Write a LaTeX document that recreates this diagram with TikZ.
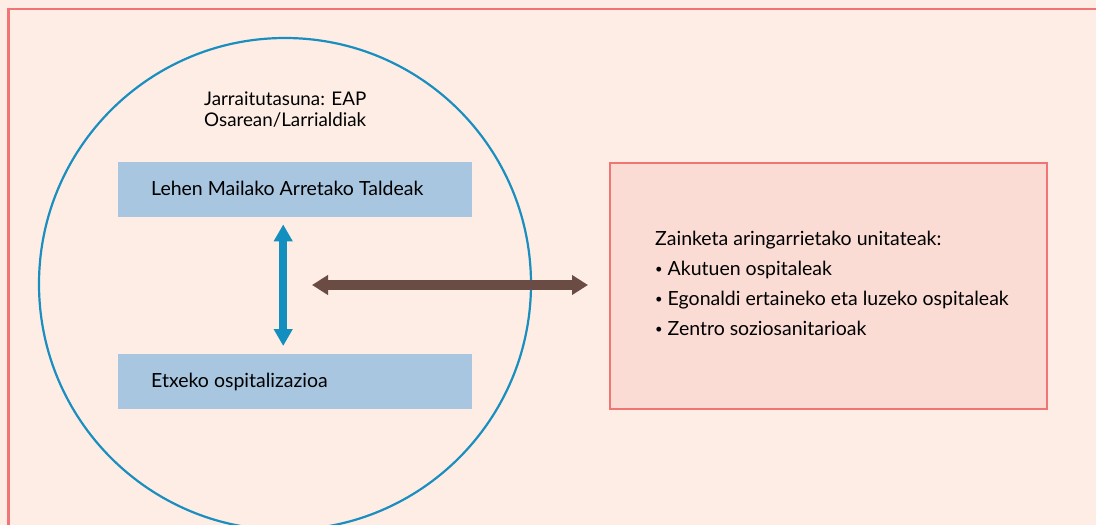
\documentclass[tikz,border=0pt]{standalone}
\usepackage{fontspec}
\setmainfont{Lato}
\usetikzlibrary{arrows.meta}
\definecolor{pagebg}{HTML}{FDEDE5}
\definecolor{framered}{HTML}{F27576}
\definecolor{ringblue}{HTML}{1A8FBF}
\definecolor{boxblue}{HTML}{A9C6E0}
\definecolor{arrowblue}{HTML}{138FBF}
\definecolor{arrowbrown}{HTML}{6B4C45}
\definecolor{unitfill}{HTML}{FADCD5}
\newcommand{\smallbul}{\raisebox{1.5pt}{\fontsize{13}{13}\selectfont\textbullet}\ }
\tikzset{
  bluebox/.style={fill=boxblue, minimum width=354pt, minimum height=55pt, inner sep=0pt},
  textlbl/.style={inner sep=0pt, anchor=base west, font=\fontsize{19.5}{23}\selectfont},
}
\begin{document}
\begin{tikzpicture}[x=1pt,y=-1pt]
  \useasboundingbox (0,0) rectangle (1096,525);
  % page background and outer frame
  \fill[pagebg] (0,0) rectangle (1096,525);
  \draw[framered, line width=2.5pt] (1100,9) -- (8.5,9) -- (8.5,530);
  % continuity ring
  \node[circle, draw=ringblue, line width=2.2pt, minimum size=492pt, inner sep=0pt] (ring) at (285,284) {};
  \node[textlbl, font=\fontsize{18.8}{23}\selectfont] (title1) at (204,105) {Jarraitutasuna: EAP};
  \node[textlbl, font=\fontsize{18.8}{23}\selectfont] (title2) at (204,126) {Osarean/Larrialdiak};
  % primary care teams and home hospitalisation
  \node[bluebox, anchor=north west] (lmat) at (118,162) {};
  \node[textlbl] (lmattext) at (151,195) {Lehen Mailako Arretako Taldeak};
  \node[bluebox, anchor=north west] (etx) at (118,354) {};
  \node[textlbl] (etxtext) at (151,387) {Etxeko ospitalizazioa};
  \draw[arrowblue, line width=8pt, {Triangle[width=18pt,length=17pt]}-{Triangle[width=18pt,length=17pt]},
        shorten <=7pt, shorten >=8pt] ([xshift=-12pt]lmat.south) -- ([xshift=-12pt]etx.north);
  % palliative care units
  \node[draw=framered, fill=unitfill, line width=2pt, minimum width=437pt, minimum height=246pt,
        anchor=north west] (units) at (609,162) {};
  \node[textlbl] (unit0) at (655,245) {Zainketa aringarrietako unitateak:};
  \node[textlbl] (unit1) at (655,275) {\smallbul Akutuen ospitaleak};
  \node[textlbl] (unit2) at (655,305) {\smallbul Egonaldi ertaineko eta luzeko ospitaleak};
  \node[textlbl] (unit3) at (655,335) {\smallbul Zentro soziosanitarioak};
  \coordinate (brownleft) at (312,285);
  \draw[arrowbrown, line width=10pt, {Triangle[width=19pt,length=16pt]}-{Triangle[width=19pt,length=16pt]},
        shorten >=21pt] (brownleft) -- (units.west |- brownleft);
\end{tikzpicture}
\end{document}
